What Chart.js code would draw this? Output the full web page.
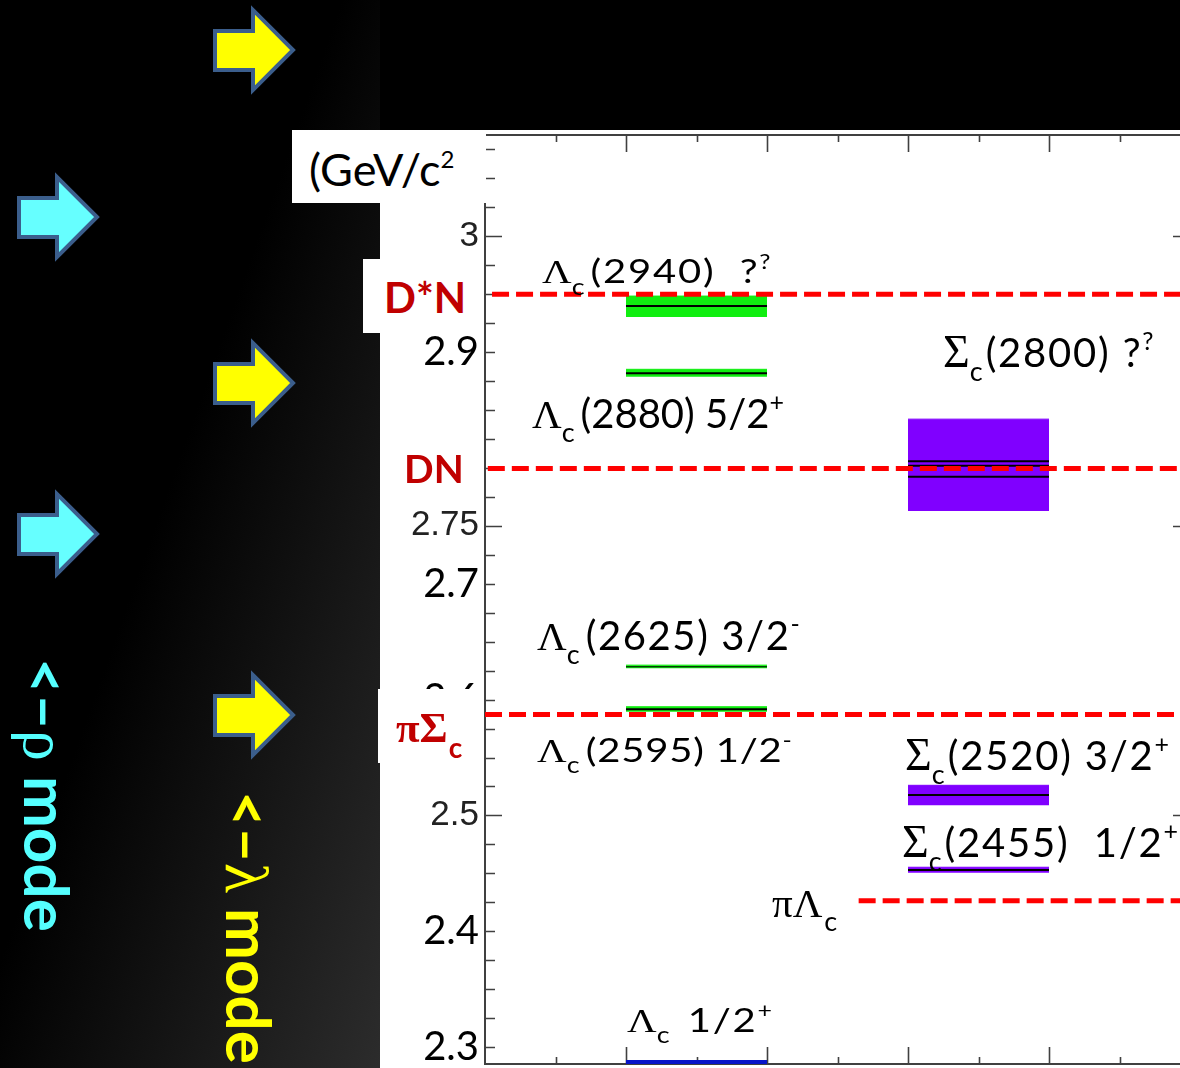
<!DOCTYPE html>
<html>
<head>
<meta charset="utf-8">
<script src="https://cdn.jsdelivr.net/npm/chart.js@4.4.1/dist/chart.umd.min.js"></script>
<style>
html,body{margin:0;padding:0;}
body{width:1180px;height:1068px;overflow:hidden;position:relative;background:#000;}
#leftbg{position:absolute;left:0;top:0;width:380px;height:1068px;background:linear-gradient(to bottom right,#000 0%,#000 45%,#2c2c2c 100%);}
.wbox{position:absolute;background:#fff;}
#plotbg{left:380px;top:130px;width:800px;height:938px;}
#gevbox{left:292px;top:130px;width:194px;height:73px;z-index:3;}
#dstarbox{left:363px;top:259px;width:112px;height:74px;z-index:3;}
#pisigbox{left:378px;top:689px;width:103px;height:74px;z-index:3;}
#arrows{position:absolute;left:0;top:0;z-index:1;}
#chart{position:absolute;left:0;top:0;z-index:2;}
.t{position:absolute;white-space:nowrap;line-height:1;z-index:4;}
.bl{display:inline-block;width:0;height:0;vertical-align:baseline;}
</style>
</head>
<body>
<div id="leftbg"></div>
<div class="wbox" id="plotbg"></div>
<svg id="arrows" width="380" height="1068"></svg>
<canvas id="chart" width="1200" height="1100"></canvas>
<div class="wbox" id="gevbox"></div>
<div class="wbox" id="dstarbox"></div>
<div class="wbox" id="pisigbox"></div>

<div class="t" id="gev" style="font:45px Lato;color:#000">(GeV/c<span style="font-size:24px;position:relative;top:-18px">2</span><span class="bl"></span></div>
<div class="t" id="lblDstarN" style="font:bold 42px Lato;color:#c00000">D*N<span class="bl"></span></div>
<div class="t" id="lblDN" style="font:bold 39px Lato;color:#c00000">DN<span class="bl"></span></div>
<div class="t" id="lblPiSig" style="color:#c00000"><span style="font:bold 43px 'Liberation Serif'">πΣ</span><span style="font:bold 28px Lato;position:relative;top:16px;margin-left:1px">c</span><span class="bl"></span></div>

<div class="t" id="rhoMode" style="font:bold 62px Lato;color:#5ff">&lt;–<span style="font:62px 'Liberation Serif'">ρ</span> mode<span class="bl"></span></div>
<div class="t" id="lamMode" style="font:bold 62px Lato;color:#ff0">&lt;–<span style="font:62px 'Liberation Serif'">λ</span> mode<span class="bl"></span></div>

<script>
// ---------------- data (GeV/c^2) ----------------
const yMin = 2.2855, yMax = 3.0872;
const xMin = 0, xMax = 5;
const yMinorStep = 0.025, yMajorStep = 0.25;
const xMinorStep = 0.5, xMajorStep = 1;

const lambdaColumn = [1, 2];
const sigmaColumn = [3, 4];

const lambdaNames = ['Λc(2286) 1/2+', 'Λc(2595) 1/2-', 'Λc(2625) 3/2-', 'Λc(2880) 5/2+', 'Λc(2940) ??'];
const lambdaMass  = [2.2868, 2.5916, 2.6283, 2.8815, 2.9396];
const lambdaLow   = [null,   2.5895, 2.6270, 2.8785, 2.9301];
const lambdaHigh  = [null,   2.5938, 2.6297, 2.8850, 2.9482];
const lambdaLineWidth = [5, 2, 1, 2, 2];

const sigmaNames = ['Σc(2455) 1/2+', 'Σc(2520) 3/2+', 'Σc(2800) ??'];
const sigmaLow   = [2.4505, 2.5087, 2.7627];
const sigmaHigh  = [2.4553, 2.5260, 2.8420];
const sigmaLines = [2.4529, 2.5176, 2.8056, 2.8018, 2.7923];

const thresholdNames = ['D*N', 'DN', 'πΣc', 'πΛc'];
const thresholdMass  = [2.9498, 2.7995, 2.5871, 2.4263];
const thresholdStart = [0.05, 0.02, 0.0, 2.65];

const yTickLabels   = ['2.3', '2.4', '2.5', '2.6', '2.7', '2.75', '2.9', '3'];
const yTickOriginal = ['2.5', '2.75', '3'];

// ---------------- styles ----------------
const GREEN = '#10ee10', PURPLE = '#8000ff', RED = '#ff0000', BLUE = '#0814c8';

// annotation texts anchored in data coordinates
const annotations = [
  {x: 0.404, y: 2.9594, sy: 0.82, ls: '1.8px', segs: [['s','Λ'],['b','c'],['g',6],['m','(2940)  ?'],['p','?']]},
  {x: 0.333, y: 2.8343, ls: '0px',   segs: [['s','Λ'],['b','c'],['g',6],['m','(2880) 5/2'],['p','+']]},
  {x: 3.248, y: 2.8870, ls: '1.8px', segs: [['S','Σ'],['b','c'],['g',3],['m','(2800) ?'],['p','?']]},
  {x: 0.369, y: 2.6427, ls: '1.6px', segs: [['s','Λ'],['b','c'],['g',6],['m','(2625) 3/2'],['p','-']]},
  {x: 0.369, y: 2.5461, sy: 0.82, ls: '0.8px', segs: [['s','Λ'],['b','c'],['g',6],['m','(2595) 1/2'],['p','-']]},
  {x: 2.979, y: 2.5392, ls: '1.8px', segs: [['S','Σ'],['b','c'],['g',3],['m','(2520) 3/2'],['p','+']]},
  {x: 2.957, y: 2.4641, ls: '1.8px', segs: [['S','Σ'],['b','c'],['g',3],['m','(2455)  1/2'],['p','+']]},
  {x: 2.035, y: 2.4123, ls: '0px',   segs: [['s','π'],['s','Λ'],['g',2],['b','c']]},
  {x: 1.007, y: 2.3131, sy: 0.82, ls: '1.8px', segs: [['s','Λ'],['b','c'],['g',6],['m',' 1/2'],['p','+']]}
];
const FONTS = {m:'40px Lato', b:'27px Lato', p:'25px Lato', s:'41px "Liberation Serif"', S:'46px "Liberation Serif"'};
const OFFS  = {m:0, b:14, p:-17, s:0, S:0};

// ---------------- datasets ----------------
const seg = (x0, x1, v) => [{x:x0, y:v}, {x:x1, y:v}];
const datasets = [];
thresholdMass.forEach((m, i) => datasets.push({
  label: thresholdNames[i], data: seg(thresholdStart[i], xMax, m),
  borderColor: RED, borderWidth: 5, borderDash: [17, 7], fill: false, order: 0
}));
datasets.push({label: lambdaNames[0], data: seg(lambdaColumn[0], lambdaColumn[1], lambdaMass[0]),
  borderColor: BLUE, borderWidth: lambdaLineWidth[0], fill: false, order: 1});
lambdaMass.forEach((m, i) => { if (i === 0) return;
  datasets.push({label: lambdaNames[i], data: seg(lambdaColumn[0], lambdaColumn[1], m),
    borderColor: '#000', borderWidth: lambdaLineWidth[i], fill: false, order: 1});
  datasets.push({label: lambdaNames[i] + ' band', data: seg(lambdaColumn[0], lambdaColumn[1], lambdaHigh[i]),
    borderColor: GREEN, borderWidth: 1, backgroundColor: GREEN, fill: {value: lambdaLow[i]}, order: 2});
});
sigmaLines.forEach(m => datasets.push({data: seg(sigmaColumn[0], sigmaColumn[1], m),
  borderColor: '#000', borderWidth: 2, fill: false, order: 1}));
sigmaLow.forEach((lo, i) => datasets.push({label: sigmaNames[i] + ' band',
  data: seg(sigmaColumn[0], sigmaColumn[1], sigmaHigh[i]),
  borderColor: PURPLE, borderWidth: 1, backgroundColor: PURPLE, fill: {value: lo}, order: 2}));

// ---------------- helpers / plugins ----------------
const isMultiple = (v, s) => Math.abs(v / s - Math.round(v / s)) < 1e-6;
const labelOf = v => yTickLabels.find(l => Math.abs(parseFloat(l) - v) < 1e-6);

const framePlugin = {
  id: 'frame',
  beforeDatasetsDraw(chart) {
    const {ctx, chartArea: a, scales: {x, y}} = chart;
    ctx.save();
    ctx.strokeStyle = '#404040';
    ctx.lineWidth = 2;
    ctx.strokeRect(a.left, a.top, a.right - a.left, a.bottom - a.top);
    ctx.lineWidth = 1.6;
    ctx.beginPath();
    y.ticks.forEach(t => {
      const p = Math.round(y.getPixelForValue(t.value)) + 0.5;
      const len = isMultiple(t.value, yMajorStep) ? 17 : 10;
      ctx.moveTo(a.left, p); ctx.lineTo(a.left + len, p);
      ctx.moveTo(a.right, p); ctx.lineTo(a.right - len, p);
    });
    x.ticks.forEach(t => {
      if (t.value <= xMin || t.value >= xMax) return;
      const p = Math.round(x.getPixelForValue(t.value)) + 0.5;
      const len = isMultiple(t.value, xMajorStep) ? 17 : 7;
      ctx.moveTo(p, a.top); ctx.lineTo(p, a.top + len);
      ctx.moveTo(p, a.bottom); ctx.lineTo(p, a.bottom - len);
    });
    ctx.stroke();
    ctx.restore();
  }
};

const labelPlugin = {
  id: 'stateLabels',
  afterDatasetsDraw(chart) {
    const {ctx, scales: {x, y}} = chart;
    ctx.save();
    ctx.fillStyle = '#000';
    ctx.textBaseline = 'alphabetic';
    ctx.textAlign = 'left';
    annotations.forEach(an => {
      ctx.save();
      ctx.translate(x.getPixelForValue(an.x), y.getPixelForValue(an.y));
      ctx.scale(1, an.sy || 1);
      let cx = 0;
      an.segs.forEach(([k, txt]) => {
        if (k === 'g') { cx += txt; return; }
        ctx.font = FONTS[k];
        if ('letterSpacing' in ctx) ctx.letterSpacing = (k === 'm') ? an.ls : '0px';
        ctx.fillText(txt, cx, OFFS[k]);
        cx += ctx.measureText(txt).width;
      });
      ctx.restore();
    });
    ctx.restore();
  }
};

new Chart(document.getElementById('chart'), {
  type: 'line',
  data: {datasets},
  options: {
    responsive: false, animation: false, events: [],
    layout: {padding: {left: 0, top: 135, right: 10, bottom: 36}},
    plugins: {legend: {display: false}, tooltip: {enabled: false}},
    elements: {point: {radius: 0}, line: {tension: 0}},
    scales: {
      x: {type: 'linear', min: xMin, max: xMax, position: 'bottom',
        ticks: {display: false, stepSize: xMinorStep},
        grid: {display: false, drawTicks: false}, border: {display: false},
        afterFit(s) { s.height = 0; }},
      y: {type: 'linear', min: yMin, max: yMax, position: 'left',
        afterFit(s) { s.width = 485; },
        afterBuildTicks(s) {
          const t = [];
          for (let k = Math.ceil(yMin / yMinorStep); k * yMinorStep <= yMax + 1e-9; k++)
            t.push({value: +(k * yMinorStep).toFixed(4)});
          s.ticks = t;
        },
        grid: {display: false, drawTicks: false}, border: {display: false},
        ticks: {
          autoSkip: false, padding: 6,
          callback: v => labelOf(v) || '',
          font: c => yTickOriginal.includes(labelOf(c.tick && c.tick.value))
            ? {family: 'Liberation Sans', size: 35} : {family: 'Lato', size: 40},
          color: c => yTickOriginal.includes(labelOf(c.tick && c.tick.value)) ? '#222' : '#000'
        }}
    }
  },
  plugins: [framePlugin, labelPlugin]
});

// ---------------- slide decorations ----------------
const svg = document.getElementById('arrows');
function arrow(x, y, fill) {
  const p = [[2,24],[40,24],[40,3],[80,43],[40,83],[40,63],[2,63]].map(([a,b]) => (x+a)+','+(y+b)).join(' ');
  const el = document.createElementNS('http://www.w3.org/2000/svg', 'polygon');
  el.setAttribute('points', p);
  el.setAttribute('fill', fill);
  el.setAttribute('stroke', '#3b5e8c');
  el.setAttribute('stroke-width', '4');
  svg.appendChild(el);
}
[[213,7],[213,340],[213,672]].forEach(([a,b]) => arrow(a, b, '#ffff00'));
[[17,174],[17,491]].forEach(([a,b]) => arrow(a, b, '#66ffff'));

function baselineOffset(el) {
  const m = el.querySelector('.bl');
  return m.getBoundingClientRect().top - el.getBoundingClientRect().top;
}
function placeText(id, x, baseY) {
  const el = document.getElementById(id);
  el.style.left = x + 'px'; el.style.top = '0px';
  el.style.top = (baseY - baselineOffset(el)) + 'px';
}
function placeVertical(id, baseX, startY) {
  const el = document.getElementById(id);
  el.style.left = '0px'; el.style.top = '0px'; el.style.transform = 'none';
  const b = baselineOffset(el);
  el.style.left = (baseX + b) + 'px';
  el.style.top = startY + 'px';
  el.style.transformOrigin = '0 0';
  el.style.transform = 'rotate(90deg)';
}
placeText('gev', 309, 186);
placeText('lblDstarN', 384, 313);
placeText('lblDN', 404, 483);
placeText('lblPiSig', 396, 742);
placeVertical('rhoMode', 24, 658);
placeVertical('lamMode', 226, 791);
</script>
</body>
</html>
